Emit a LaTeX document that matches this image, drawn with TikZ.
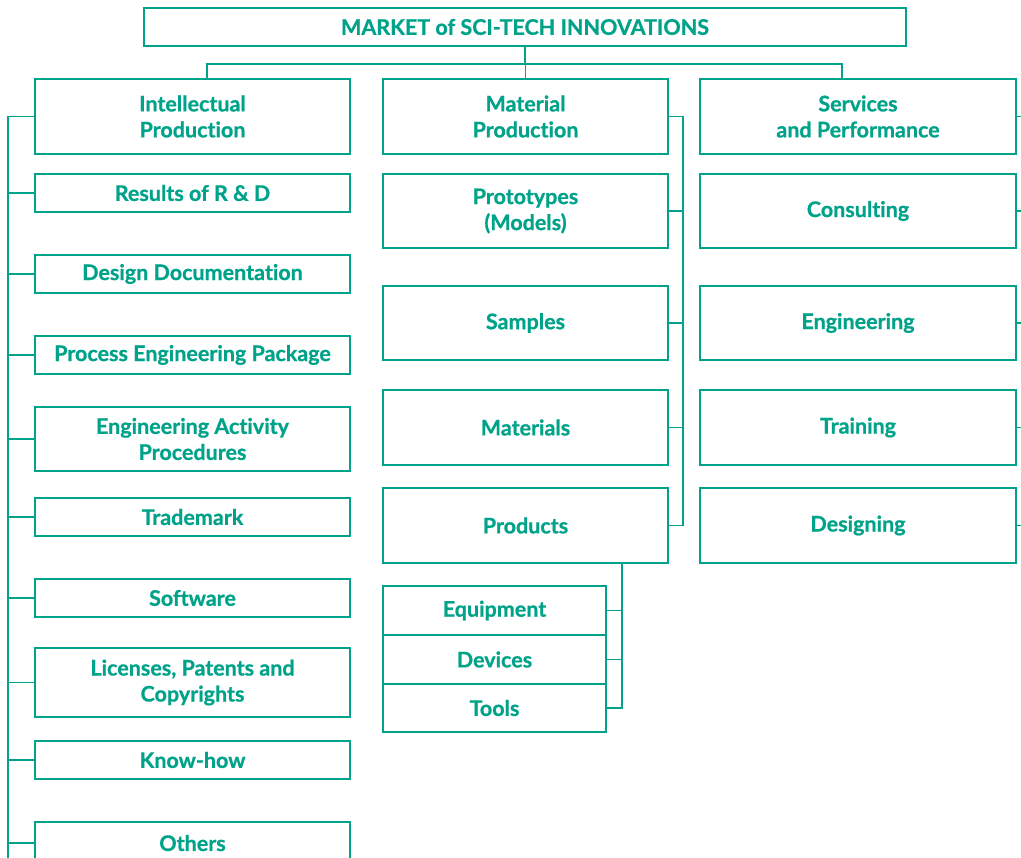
\documentclass[tikz,border=0pt]{standalone}
\usepackage{fontspec}
\setmainfont{Lato}[UprightFont=* Bold, FakeBold=0.8, RawFeature={-liga;-calt;-dlig}]
\usetikzlibrary{calc}
\definecolor{teal}{RGB}{0,163,137}
\begin{document}
\begin{tikzpicture}[x=1pt,y=-1pt,
  box/.style={draw=teal, line width=1.4pt, inner sep=0pt, outer sep=0pt,
    align=center, text=teal, font=\fontsize{21.5}{26}\selectfont},
  headbox/.style={box, line width=2.8pt},
  link/.style={draw=teal, line width=1.4pt},
  lcol/.style={box, minimum width=315pt},
  mcol/.style={box, minimum width=285pt},
  rcol/.style={box, minimum width=316pt},
  scol/.style={box, minimum width=223pt}]
\useasboundingbox (0,0) rectangle (1021,858);
\clip (0,0) rectangle (1021,858);

% title
\node[headbox, minimum width=762pt, minimum height=38pt] (top) at (525,27) {MARKET of SCI-TECH INNOVATIONS};

% column heads
\node[headbox, minimum width=315pt, minimum height=75pt] (ip) at (192.5,116.5) {Intellectual\\Production};
\node[headbox, minimum width=285pt, minimum height=75pt] (mp) at (525.5,116.5) {Material\\Production};
\node[headbox, minimum width=316pt, minimum height=75pt] (sp) at (858,116.5) {Services\\and Performance};

% intellectual production
\node[lcol, minimum height=38pt] (rd) at (192.5,193) {Results of R \& D};
\node[lcol, minimum height=38pt] (dd) at (192.5,274) {Design Documentation};
\node[lcol, minimum height=38pt] (pep) at (192.5,355) {Process Engineering Package};
\node[lcol, minimum height=64pt] (eap) at (192.5,439) {Engineering Activity\\Procedures};
\node[lcol, minimum height=38pt] (tm) at (192.5,517) {Trademark};
\node[lcol, minimum height=38pt] (sw) at (192.5,598) {Software};
\node[lcol, minimum height=69pt] (lic) at (192.5,682.5) {Licenses, Patents and\\Copyrights};
\node[lcol, minimum height=38pt] (kh) at (192.5,760) {Know-how};
\node[lcol, minimum height=42pt, text depth=0pt] (oth) at (192.5,843) {Others};

% material production
\node[mcol, minimum height=74pt] (pro) at (525.5,211) {Prototypes\\(Models)};
\node[mcol, minimum height=74pt] (smp) at (525.5,323) {Samples};
\node[mcol, minimum height=75pt] (mat) at (525.5,427.5) {Materials};
\node[mcol, minimum height=75pt] (prd) at (525.5,525.5) {Products};
\node[scol, minimum height=49pt] (eq) at (494.5,610.5) {Equipment};
\node[scol, minimum height=49pt] (dev) at (494.5,659.5) {Devices};
\node[scol, minimum height=48pt] (tls) at (494.5,708) {Tools};

% services and performance
\node[rcol, minimum height=74pt] (con) at (858,211) {Consulting};
\node[rcol, minimum height=74pt] (eng) at (858,323) {Engineering};
\node[rcol, minimum height=75pt] (trn) at (858,427.5) {Training};
\node[rcol, minimum height=75pt] (des) at (858,525.5) {Designing};

% top distribution
\coordinate (jl) at (207,64);
\coordinate (jr) at (842,64);
\draw[link] (top.south) -- (top.south |- jl);
\draw[link] (jl |- ip.north) -- (jl) -- (jr) -- (jr |- sp.north);
\draw[link] (mp.north) -- (mp.north |- jl);

% left bus
\draw[link] (ip.west) -- ++(-27,0) |- (oth.west);
\foreach \n in {rd,dd,pep,eap,tm,sw,lic,kh}
  \draw[link] (\n.west) -- ++(-27,0);
\draw[link] (oth.west) -- ++(-27,0) -- ++(0,40);

% middle bus
\draw[link] (mp.east) -- ++(15,0) |- (prd.east);
\foreach \n in {pro,smp,mat}
  \draw[link] (\n.east) -- ++(15,0);

% product sub-bus
\coordinate (sb) at (622,708);
\draw[link] (tls.east) -- (sb) -- (sb |- prd.south);
\foreach \n in {eq,dev}
  \draw[link] (\n.east) -- (\n.east -| sb);

% right stubs
\foreach \n in {sp,con,eng,trn,des}
  \draw[link] (\n.east) -- ++(12,0);
\end{tikzpicture}
\end{document}
